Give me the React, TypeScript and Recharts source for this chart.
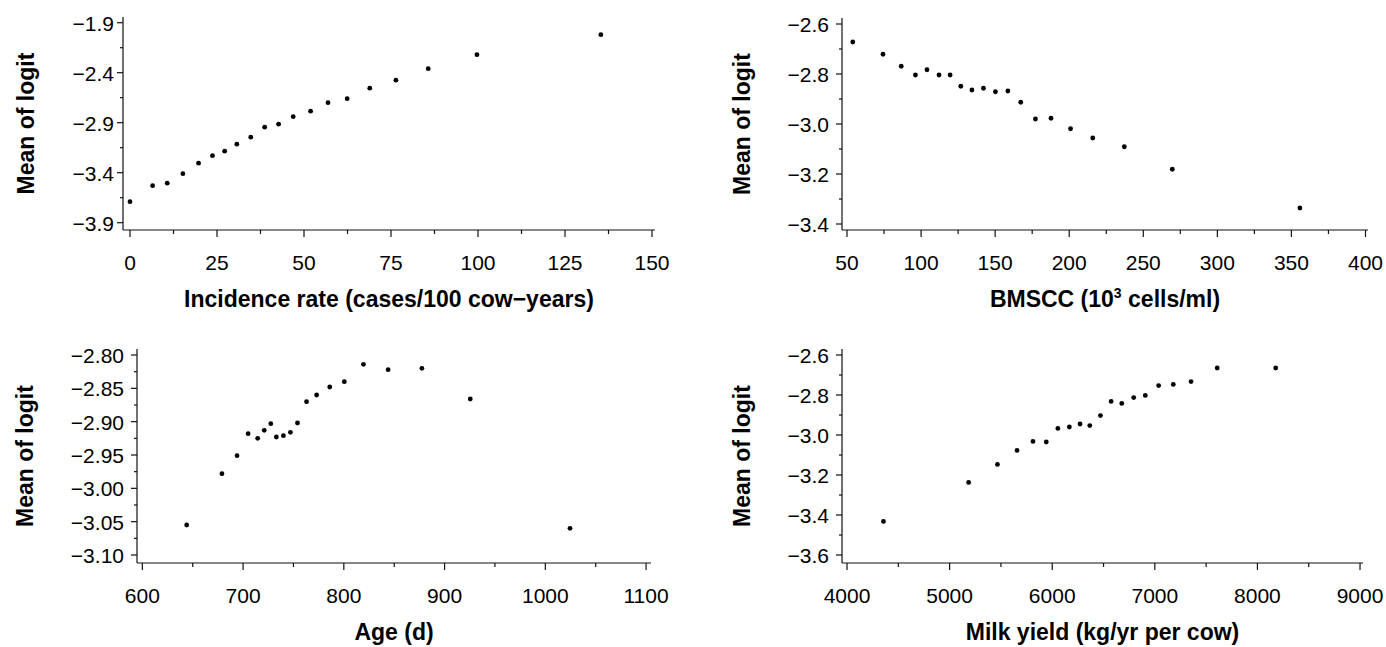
import React from "react";
import { Scatter, ScatterChart, XAxis, YAxis } from "recharts";

// incidence rate panel
const incidenceX = [0, 6.5, 10.7, 15.2, 19.7, 23.7, 27.2, 30.7, 34.7, 38.7, 42.7, 46.9, 51.9, 56.9, 62.4, 68.9, 76.4, 85.7, 99.7, 135.3];
const incidenceY = [-3.69, -3.53, -3.505, -3.41, -3.305, -3.23, -3.185, -3.115, -3.045, -2.945, -2.915, -2.84, -2.785, -2.7, -2.66, -2.555, -2.475, -2.36, -2.22, -2.02];
const incidenceXMajor = [0, 25, 50, 75, 100, 125, 150];
const incidenceXMinor = [12.5, 37.5, 62.5, 87.5, 112.5, 137.5];
const incidenceYMajor = [-1.9, -2.4, -2.9, -3.4, -3.9];
const incidenceYMinor = [-2.15, -2.65, -3.15, -3.65];

// BMSCC panel
const bmsccX = [53.9, 74.3, 86.6, 96.2, 104, 112.1, 119.6, 126.8, 134.3, 142.1, 150.2, 158.6, 167.3, 177.2, 187.7, 200.9, 215.9, 237.2, 269.6, 355.7];
const bmsccY = [-2.672, -2.721, -2.769, -2.804, -2.783, -2.804, -2.804, -2.849, -2.864, -2.857, -2.871, -2.868, -2.913, -2.98, -2.977, -3.019, -3.056, -3.091, -3.181, -3.336];
const bmsccXMajor = [50, 100, 150, 200, 250, 300, 350, 400];
const bmsccXMinor = [75, 125, 175, 225, 275, 325, 375];
const bmsccYMajor = [-2.6, -2.8, -3.0, -3.2, -3.4];
const bmsccYMinor = [-2.7, -2.9, -3.1, -3.3];

// age panel
const ageX = [644, 679, 694, 705, 714.5, 721, 727.5, 733, 740, 747, 754, 763, 773, 786, 800.5, 819.5, 844, 877.5, 925.5, 1024.5];
const ageY = [-3.055, -2.978, -2.951, -2.918, -2.925, -2.913, -2.903, -2.923, -2.921, -2.916, -2.902, -2.87, -2.86, -2.848, -2.84, -2.814, -2.822, -2.82, -2.866, -3.06];
const ageXMajor = [600, 700, 800, 900, 1000, 1100];
const ageXMinor = [650, 750, 850, 950, 1050];
const ageYMajor = [-2.8, -2.85, -2.9, -2.95, -3.0, -3.05, -3.1];
const ageYMinor = [-2.825, -2.875, -2.925, -2.975, -3.025, -3.075];

// milk yield panel
const milkX = [4355, 5185, 5466, 5657, 5812, 5942, 6055, 6167, 6271, 6366, 6470, 6574, 6678, 6794, 6907, 7037, 7180, 7353, 7608, 8178];
const milkY = [-3.432, -3.237, -3.147, -3.077, -3.032, -3.035, -2.967, -2.96, -2.945, -2.953, -2.903, -2.832, -2.842, -2.813, -2.802, -2.753, -2.747, -2.733, -2.665, -2.665];
const milkXMajor = [4000, 5000, 6000, 7000, 8000, 9000];
const milkXMinor = [4500, 5500, 6500, 7500, 8500];
const milkYMajor = [-2.6, -2.8, -3.0, -3.2, -3.4, -3.6];
const milkYMinor = [-2.7, -2.9, -3.1, -3.3, -3.5];

const FONT = '"Liberation Sans", Arial, Helvetica, sans-serif';
const INK = "#111";
const TICK_FONT = 21;

const fmt = (v: number, d: number) => {
  const s = Math.abs(v).toFixed(d);
  return v < 0 ? "\u2212" + s : s;
};

type PanelProps = {
  left: number;
  top: number;
  width: number;
  height: number;
  xs: number[];
  ys: number[];
  xDomain: [number, number];
  yDomain: [number, number];
  xMajor: number[];
  xMinor: number[];
  yMajor: number[];
  yMinor: number[];
  yDecimals: number;
  plotLeft: number;
  plotRight: number;
  plotTop: number;
  plotBottom: number;
  yLabelX: number;
  yTickGap: number;
  xTitle: React.ReactNode;
};

function Panel(p: PanelProps) {
  const data = p.xs.map((x, i) => ({ x, y: p.ys[i] }));

  const xTick = (t: any) => {
    const major = p.xMajor.includes(t.payload.value);
    return (
      <g>
        <line x1={t.x} x2={t.x} y1={t.y} y2={t.y + (major ? 7 : 4)} stroke={INK} strokeWidth={1.2} />
        {major && (
          <text x={t.x} y={t.y + 40} textAnchor="middle" fontSize={TICK_FONT} fontFamily={FONT} fill="#000">
            {t.payload.value}
          </text>
        )}
      </g>
    );
  };

  const yTick = (t: any) => {
    const major = p.yMajor.includes(t.payload.value);
    return (
      <g>
        <line x1={t.x} x2={t.x - (major ? 6 : 3)} y1={t.y} y2={t.y} stroke={INK} strokeWidth={1.2} />
        {major && (
          <text x={t.x - p.yTickGap} y={t.y + 8} textAnchor="end" fontSize={TICK_FONT} fontFamily={FONT} fill="#000">
            {fmt(t.payload.value, p.yDecimals)}
          </text>
        )}
      </g>
    );
  };

  const xTitle = () => (
    <text
      x={(p.plotLeft + p.plotRight) / 2}
      y={p.plotBottom + 77}
      textAnchor="middle"
      fontSize={23}
      fontWeight="bold"
      fontFamily={FONT}
      fill="#000"
    >
      {p.xTitle}
    </text>
  );

  const yTitle = () => {
    const cy = (p.plotTop + p.plotBottom) / 2;
    return (
      <text
        x={p.yLabelX}
        y={cy}
        transform={`rotate(-90, ${p.yLabelX}, ${cy})`}
        textAnchor="middle"
        dominantBaseline="central"
        fontSize={23}
        fontWeight="bold"
        fontFamily={FONT}
        fill="#000"
      >
        Mean of logit
      </text>
    );
  };

  return (
    <div style={{ position: "absolute", left: p.left, top: p.top }}>
      <ScatterChart
        width={p.width}
        height={p.height}
        margin={{ top: p.plotTop, right: p.width - p.plotRight, bottom: 0, left: 0 }}
      >
        <XAxis
          type="number"
          dataKey="x"
          domain={p.xDomain}
          allowDataOverflow
          ticks={[...p.xMajor, ...p.xMinor]}
          interval={0}
          tick={xTick}
          tickLine={false}
          tickSize={0}
          tickMargin={0}
          axisLine={{ stroke: INK, strokeWidth: 1.2 }}
          height={p.height - p.plotBottom}
          label={xTitle}
        />
        <YAxis
          type="number"
          dataKey="y"
          domain={p.yDomain}
          allowDataOverflow
          ticks={[...p.yMajor, ...p.yMinor]}
          interval={0}
          tick={yTick}
          tickLine={false}
          tickSize={0}
          tickMargin={0}
          axisLine={{ stroke: INK, strokeWidth: 1.2 }}
          width={p.plotLeft}
          label={yTitle}
        />
        <Scatter
          data={data}
          isAnimationActive={false}
          shape={(s: any) => <circle cx={s.cx} cy={s.cy} r={2.4} fill="#000" />}
        />
      </ScatterChart>
    </div>
  );
}

export default function App() {
  return (
    <div
      style={{
        position: "absolute",
        left: 0,
        top: 0,
        width: 1386,
        height: 647,
        background: "#fff",
        fontFamily: FONT,
      }}
    >
      <Panel
        left={0}
        top={0}
        width={693}
        height={323}
        xs={incidenceX}
        ys={incidenceY}
        xDomain={[-2.01, 150.86]}
        yDomain={[-3.973, -1.843]}
        xMajor={incidenceXMajor}
        xMinor={incidenceXMinor}
        yMajor={incidenceYMajor}
        yMinor={incidenceYMinor}
        yDecimals={1}
        plotLeft={123}
        plotRight={655}
        plotTop={17}
        plotBottom={230}
        yLabelX={26}
        yTickGap={9}
        xTitle={"Incidence rate (cases/100 cow\u2212years)"}
      />
      <Panel
        left={693}
        top={0}
        width={693}
        height={323}
        xs={bmsccX}
        ys={bmsccY}
        xDomain={[46.62, 401.69]}
        yDomain={[-3.424, -2.576]}
        xMajor={bmsccXMajor}
        xMinor={bmsccXMinor}
        yMajor={bmsccYMajor}
        yMinor={bmsccYMinor}
        yDecimals={1}
        plotLeft={149}
        plotRight={675}
        plotTop={18}
        plotBottom={230}
        yLabelX={48.5}
        yTickGap={13}
        xTitle={
          <>
            BMSCC (10
            <tspan dy={-9} fontSize={14}>3</tspan>
            <tspan dy={9}> cells/ml)</tspan>
          </>
        }
      />
      <Panel
        left={0}
        top={324}
        width={693}
        height={323}
        xs={ageX}
        ys={ageY}
        xDomain={[594.7, 1104.9]}
        yDomain={[-3.112, -2.791]}
        xMajor={ageXMajor}
        xMinor={ageXMinor}
        yMajor={ageYMajor}
        yMinor={ageYMinor}
        yDecimals={2}
        plotLeft={137}
        plotRight={651}
        plotTop={25}
        plotBottom={239}
        yLabelX={24.5}
        yTickGap={13}
        xTitle="Age (d)"
      />
      <Panel
        left={693}
        top={324}
        width={693}
        height={323}
        xs={milkX}
        ys={milkY}
        xDomain={[3951, 9029]}
        yDomain={[-3.64, -2.57]}
        xMajor={milkXMajor}
        xMinor={milkXMinor}
        yMajor={milkYMajor}
        yMinor={milkYMinor}
        yDecimals={1}
        plotLeft={149}
        plotRight={670}
        plotTop={25}
        plotBottom={239}
        yLabelX={48.5}
        yTickGap={13}
        xTitle="Milk yield (kg/yr per cow)"
      />
    </div>
  );
}
